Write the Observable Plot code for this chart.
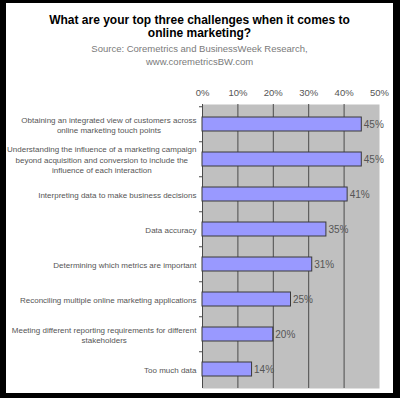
<!DOCTYPE html>
<html>
<head>
<meta charset="utf-8">
<script src="https://cdn.jsdelivr.net/npm/d3@7"></script>
<script src="https://cdn.jsdelivr.net/npm/@observablehq/plot@0.6"></script>
<style>
  html, body { margin: 0; padding: 0; background: #fff; }
  #frame {
    position: relative; box-sizing: border-box; width: 400px; height: 398px;
    border-style: solid; border-color: #000; border-width: 3px 7px 5px 6px;
    background: #fff; overflow: hidden;
    font-family: "Liberation Sans", Arial, sans-serif;
  }
  #title {
    position: absolute; left: 0; right: 0; top: 11px; text-align: center;
    font-size: 12px; font-weight: bold; line-height: 13px; color: #000;
  }
  #subtitle {
    position: absolute; left: 0; right: 0; top: 39px; text-align: center;
    font-size: 9.5px; line-height: 13px; color: #7a7a7a;
  }
  #chart { position: absolute; left: 0; top: 75px; }
</style>
</head>
<body>
<div id="frame">
  <div id="title">What are your top three challenges when it comes to<br>online marketing?</div>
  <div id="subtitle">Source: Coremetrics and BusinessWeek Research,<br>www.coremetricsBW.com</div>
  <div id="chart"></div>
</div>
<script>
const categories = [
  "Obtaining an integrated view of customers across\nonline marketing touch points",
  "Understanding the influence of a marketing campaign\nbeyond acquisition and conversion to include the\ninfluence of each interaction",
  "Interpreting data to make business decisions",
  "Data accuracy",
  "Determining which metrics are important",
  "Reconciling multiple online marketing applications",
  "Meeting different reporting requirements for different\nstakeholders",
  "Too much data"
];
const values = [45, 45, 41, 35, 31, 25, 20, 14];
const xTicks = [0, 10, 20, 30, 40, 50];
const gridTicks = [10, 20, 30, 40];

const data = categories.map((c, i) => ({category: c, value: values[i]}));

const W = 387, H = 315, mT = 26, mB = 5, mL = 196, mR = 14;
const step = (H - mT - mB) / categories.length;
const font = '"Liberation Sans", Arial, sans-serif';

const chart = Plot.plot({
  width: W, height: H,
  marginTop: mT, marginBottom: mB, marginLeft: mL, marginRight: mR,
  style: {fontFamily: font, background: "transparent", overflow: "visible"},
  x: {domain: [0, 50], axis: null},
  y: {domain: categories, paddingInner: 0.6, paddingOuter: 0.3, axis: null},
  marks: [
    Plot.frame({fill: "#c0c0c0", stroke: null}),
    Plot.ruleX(gridTicks, {stroke: "#4a4a4a", strokeWidth: 1}),
    Plot.ruleX([0], {stroke: "#4a4a4a", strokeWidth: 1}),
    Plot.ruleY(categories, {y: d => d, x1: 0, x2: 0, insetLeft: -3, dy: -step / 2, stroke: "#4a4a4a"}),
    Plot.axisX({anchor: "top", ticks: xTicks, tickSize: 0, tickPadding: 9,
      tickFormat: d => d + "%", fontSize: 9.5, fill: "#555", label: null}),
    Plot.barX(data, {x: "value", y: "category", fill: "#9999ff", stroke: "#3a3a3a", strokeWidth: 1}),
    Plot.text(data, {x: "value", y: "category", text: d => d.value + "%",
      textAnchor: "start", dx: 2, fontSize: 10, fill: "#555"}),
    Plot.text(data, {x: 0, y: "category", text: "category", textAnchor: "end",
      dx: -6, fontSize: 8, lineHeight: 1.3, fill: "#555"})
  ]
});
document.getElementById("chart").appendChild(chart);

// center the wrapped lines of each category label relative to each other
const textGroups = chart.querySelectorAll('g[aria-label="text"]');
const labelGroup = textGroups[textGroups.length - 1];
labelGroup.querySelectorAll("text").forEach(t => {
  const spans = Array.from(t.querySelectorAll("tspan"));
  if (spans.length < 2) return;
  const widths = spans.map(s => s.getComputedTextLength());
  const maxW = Math.max(...widths);
  spans.forEach((s, i) => s.setAttribute("x", -(maxW - widths[i]) / 2));
});
</script>
</body>
</html>
